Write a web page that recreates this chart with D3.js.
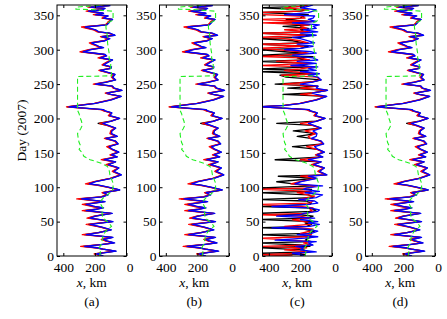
<!doctype html>
<html>
<head>
<script src="https://cdn.jsdelivr.net/npm/d3@7"></script>
<style>
  body { margin: 0; background: #fff; }
  text { font-family: "Liberation Serif", "DejaVu Serif", serif; }
</style>
</head>
<body>
<script>
// tick labels
const dayTicks = [0, 50, 100, 150, 200, 250, 300, 350];
const kmTicks = [400, 200, 0];
const panelNames = ["(a)", "(b)", "(c)", "(d)"];

// panels (a), (b), (d): day of vertex and x in km
const daysA = [0,3,7,10,12,14,17,19,22,24,27,31,34,38,42,46,50,53,55,58,
  62,66,68,70,72,75,79,83,86,89,92,96,100,103,105,108,113,118,123,128,
  133,137,140,144,147,151,155,159,163,167,171,174,178,182,186,190,193,196,200,204,
  208,211,213,217,219,222,227,232,235,237,241,244,247,250,253,256,260,264,268,270,
  273,275,278,282,285,288,291,293,297,300,303,305,308,310,313,316,319,321,324,326,
  329,333,336,338,341,344,346,349,351,353,356,358,360,362,364,365];
const blackA = [150,200,70,150,190,275,150,80,130,150,90,265,180,100,160,240,90,170,240,200,
  95,265,190,150,210,265,140,300,160,120,150,45,120,180,245,200,100,35,85,50,
  120,70,150,60,100,50,90,115,55,70,135,60,100,95,70,120,180,100,45,110,
  95,140,150,375,300,200,100,35,100,130,30,80,90,200,130,70,90,75,140,170,
  100,100,150,120,90,170,130,140,285,230,150,180,210,225,140,110,160,75,110,180,
  200,270,130,120,110,90,150,120,200,150,245,160,140,235,110,150];
const redA = [160,205,75,145,200,290,150,85,135,160,95,280,175,105,165,255,95,175,250,205,
  100,280,195,155,220,280,145,315,165,125,155,50,125,190,260,205,105,40,90,55,
  130,75,160,65,105,55,95,125,60,75,140,65,105,100,75,125,170,95,50,115,
  100,145,165,380,310,205,105,40,105,135,35,85,95,210,135,75,95,80,145,175,
  105,105,155,125,95,180,135,145,295,240,160,185,220,235,145,115,165,80,115,185,
  210,285,135,125,115,95,155,125,210,155,255,165,145,245,115,155];
const blueA = [145,190,65,150,185,265,145,75,125,145,85,255,175,95,155,230,85,165,230,195,
  90,255,185,145,200,255,135,285,155,115,145,42,115,175,235,195,95,32,80,48,
  115,68,140,58,95,48,88,110,52,68,130,58,95,92,68,115,150,95,43,105,
  92,135,145,365,295,195,95,33,98,125,28,78,88,195,125,68,88,72,135,165,
  98,95,145,115,88,165,125,135,275,225,145,175,205,220,135,105,155,72,105,175,
  195,260,125,115,105,88,145,115,195,145,240,155,135,230,105,145];

// panel (c)
const daysC = [0,2,4,6,9,12,14,16,19,21,23,26,28,31,33,36,39,41,43,46,
  48,50,53,55,58,60,62,65,67,70,72,75,77,80,82,85,87,89,92,94,97,99,102,
  105,108,113,116,118,123,128,133,137,140,144,147,151,155,159,163,167,171,174,178,
  182,186,190,193,196,200,204,208,211,213,217,219,222,227,232,235,237,241,244,247,
  250,253,256,260,
  263,265,268,270,272,275,277,280,283,285,288,290,292,295,297,300,302,305,308,310,
  313,316,318,321,324,326,329,331,334,336,339,341,344,346,349,351,354,356,358,361,363,365];
const blackC = [200,170,460,150,180,460,140,200,460,130,170,150,120,460,150,110,180,460,160,130,
  170,120,460,150,120,200,460,120,100,160,460,140,130,170,460,120,130,150,460,140,130,460,120,
  245,350,100,340,35,85,50,120,70,360,60,100,50,90,250,55,70,135,220,100,
  245,70,120,350,100,45,110,95,140,150,460,300,200,100,35,310,130,30,280,90,
  360,130,70,290,
  330,120,460,150,460,130,200,150,460,160,220,120,460,180,300,460,200,150,460,180,
  250,460,200,130,460,170,200,150,310,140,350,150,290,200,180,150,460,200,170,460,180,160];
const redC = [250,460,200,140,300,160,460,130,180,140,250,460,150,130,200,140,120,200,300,140,
  120,180,250,140,200,460,160,120,140,120,200,460,140,120,200,160,110,150,220,130,460,150,100,
  260,205,105,200,40,90,55,130,75,200,65,105,55,95,160,60,75,140,150,105,
  170,75,125,200,95,50,115,100,145,165,460,310,205,105,40,200,135,35,200,95,
  310,135,75,95,
  320,110,250,300,200,110,460,130,350,140,200,460,300,150,200,350,460,180,460,150,
  200,300,460,170,460,140,300,160,200,150,440,130,460,170,200,460,460,200,150,300,200,150];
const blueC = [180,200,250,100,200,180,230,120,150,100,360,170,90,220,130,90,160,380,140,80,
  150,90,200,110,350,200,180,90,80,140,380,150,90,110,210,100,80,60,170,80,180,160,60,
  235,195,95,150,32,80,48,115,68,150,58,95,48,88,110,52,68,130,100,95,
  120,68,115,150,95,43,105,92,135,145,460,295,195,95,33,98,125,28,100,88,
  200,125,68,88,
  150,80,200,100,150,90,260,100,220,90,120,200,250,100,130,300,200,120,220,110,
  150,200,250,100,200,90,180,100,120,80,250,100,150,120,110,300,150,120,100,200,150,120];

// green dashed reference line (same in every panel)
const greenDays = [0,6,11,17,22,28,33,38,43,48,55,62,70,76,81,86,90,95,100,106,
  112,118,125,130,135,140,145,150,155,160,165,170,178,185,190,196,202,207,212,220,
  235,250,261,262,266,272,280,288,295,302,310,318,325,332,338,343,350,356,358,359,362,364,365];
const greenKm = [170,165,175,160,155,150,140,125,95,110,150,155,150,165,160,140,115,90,85,85,
  95,105,110,120,160,230,270,280,300,290,300,305,310,290,280,285,295,300,310,310,
  310,310,310,95,95,100,100,110,110,115,120,120,125,130,130,85,85,85,200,320,320,200,150];

const W = 447, H = 319;
const lefts = [57, 159.5, 262.5, 365.5];
const pw = 69.5, yTop = 5, yBottom = 256;

const svg = d3.select("body").append("svg")
  .attr("width", W).attr("height", H);

const y = d3.scaleLinear().domain([0, 365]).range([yBottom, yTop]);

const panels = [
  {days: daysA, black: blackA, red: redA, blue: blueA},
  {days: daysA, black: blackA, red: redA, blue: blueA},
  {days: daysC, black: blackC, red: redC, blue: blueC},
  {days: daysA, black: blackA, red: redA, blue: blueA}
];

panels.forEach((p, i) => {
  const x = d3.scaleLinear().domain([440, 0]).range([lefts[i], lefts[i] + pw]);
  const g = svg.append("g");

  g.append("clipPath").attr("id", "clip" + i)
    .append("rect")
    .attr("x", lefts[i]).attr("y", yTop)
    .attr("width", pw).attr("height", yBottom - yTop);

  const line = d3.line()
    .x(d => x(d[1]))
    .y(d => y(d[0]));

  const plot = g.append("g").attr("clip-path", `url(#clip${i})`);
  const series = [["black", p.black], ["#ff0000", p.red], ["#0000ff", p.blue]];
  series.forEach(([col, vals]) => {
    plot.append("path")
      .datum(d3.zip(p.days, vals))
      .attr("d", line)
      .attr("fill", "none")
      .attr("stroke", col)
      .attr("stroke-width", 1.3)
      .attr("stroke-linejoin", "round");
  });
  plot.append("path")
    .datum(d3.zip(greenDays, greenKm))
    .attr("d", line)
    .attr("fill", "none")
    .attr("stroke", "#22ee22")
    .attr("stroke-width", 1.1)
    .attr("stroke-dasharray", "5,3");

  // axes with inward ticks
  const ax = g.append("g").attr("transform", `translate(${lefts[i]},0)`)
    .call(d3.axisLeft(y).tickValues(dayTicks).tickSize(-3).tickPadding(3));
  const ar = g.append("g").attr("transform", `translate(${lefts[i] + pw},0)`)
    .call(d3.axisRight(y).tickValues(dayTicks).tickSize(-3).tickFormat(""));
  const ab = g.append("g").attr("transform", `translate(0,${yBottom})`)
    .call(d3.axisBottom(x).tickValues(kmTicks).tickSize(-3).tickPadding(6));
  const at = g.append("g").attr("transform", `translate(0,${yTop})`)
    .call(d3.axisTop(x).tickValues(kmTicks).tickSize(-3).tickFormat(""));

  [ax, ar, ab, at].forEach(a => {
    a.select(".domain").remove();
    a.selectAll("line").attr("stroke", "#000");
    a.selectAll("text").attr("fill", "#000")
      .style("font-family", '"Liberation Serif", serif').style("font-size", "13.5px");
  });
  ab.selectAll(".tick text").filter(d => d === 0).attr("dx", 3);

  g.append("rect")
    .attr("x", lefts[i]).attr("y", yTop)
    .attr("width", pw).attr("height", yBottom - yTop)
    .attr("fill", "none").attr("stroke", "#000").attr("stroke-width", 1);

  const cx = lefts[i] + pw / 2;
  const xl = g.append("text")
    .attr("x", cx).attr("y", 287)
    .attr("text-anchor", "middle")
    .style("font-size", "13.5px");
  xl.append("tspan").style("font-style", "italic").text("x");
  xl.append("tspan").text(", km");

  g.append("text")
    .attr("x", cx).attr("y", 306)
    .attr("text-anchor", "middle")
    .style("font-size", "13.5px")
    .text(panelNames[i]);
});

svg.append("text")
  .attr("transform", `translate(26,${(yTop + yBottom) / 2}) rotate(-90)`)
  .attr("text-anchor", "middle")
  .style("font-size", "13.5px")
  .text("Day (2007)");
</script>
</body>
</html>
